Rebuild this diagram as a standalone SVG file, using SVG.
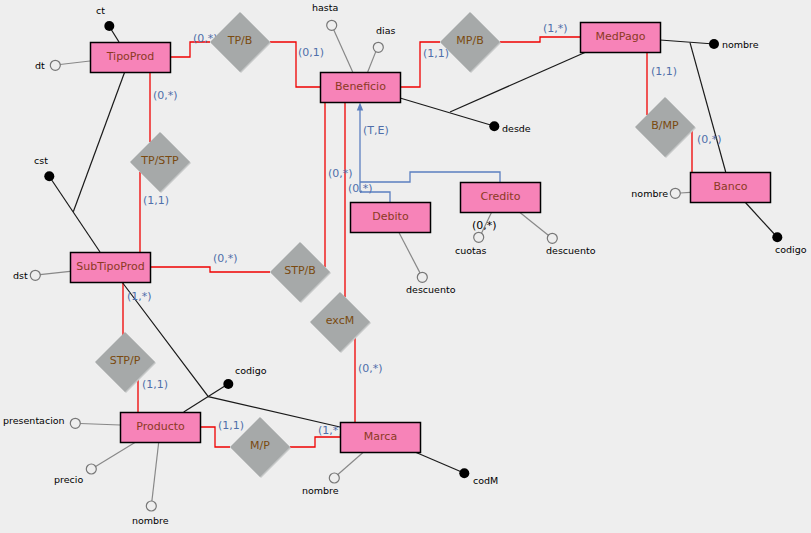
<svg xmlns="http://www.w3.org/2000/svg" width="811" height="533" viewBox="0 0 811 533">
<style>
.bg{fill:#eeeeee}
.ent rect{fill:#f783b8;stroke:#000;stroke-width:1.5}
.ent text{font-family:"DejaVu Sans",sans-serif;font-size:11px;fill:#8b3a1f;text-anchor:middle}
.rel .sh{fill:#c6c8c8}
.rel .d{fill:#a6a9a9}
.rel text{font-family:"DejaVu Sans",sans-serif;font-size:11px;fill:#7a4a10;text-anchor:middle}
.red{fill:none;stroke:#f00000;stroke-width:1.3}
.blk{fill:none;stroke:#1a1a1a;stroke-width:1.2}
.gry{fill:none;stroke:#888;stroke-width:1.2}
.blu{fill:none;stroke:#5b7fc0;stroke-width:1.3}
.card{font-family:"DejaVu Sans",sans-serif;font-size:11px;fill:#4f6eaa}
.att{font-family:"DejaVu Sans",sans-serif;font-size:9.5px;fill:#000}
.oc{fill:none;stroke:#777;stroke-width:1.2}
.kd{fill:#000}
</style>
<rect class="bg" x="0" y="0" width="811" height="533"/>

<g id="connectors">
  <path class="red" d="M170,57 H190 V42 H210"/>
  <path class="red" d="M270,42 H296 V87 H320"/>
  <path class="red" d="M400,87 H420 V42 H440"/>
  <path class="red" d="M500,42 H540 V37 H580"/>
  <path class="red" d="M647,52 V115"/>
  <path class="red" d="M692,130 V172"/>
  <path class="red" d="M150,72 V142"/>
  <path class="red" d="M140,172 V252"/>
  <path class="red" d="M150,267 H210 V272 H270"/>
  <path class="red" d="M325,102 V267"/>
  <path class="red" d="M345,102 V297"/>
  <path class="red" d="M355,337 V422"/>
  <path class="red" d="M123,282 V335"/>
  <path class="red" d="M138,380 V412"/>
  <path class="red" d="M200,427 H215 V447 H230"/>
  <path class="red" d="M290,447 H315 V437 H340"/>

  <path class="blk" d="M109,26 L119,42"/>
  <path class="blk" d="M124.7,72 L73.3,211.7"/>
  <path class="blk" d="M49,176 L100,252"/>
  <path class="blk" d="M400,98 L494,126"/>
  <path class="blk" d="M586,52 L450,112"/>
  <path class="blk" d="M660,40 L714,44"/>
  <path class="blk" d="M690,42.7 L725.7,172"/>
  <path class="blk" d="M745,202 L777,237"/>
  <path class="blk" d="M122,282 L208.3,396.7 L340,427"/>
  <path class="blk" d="M183.7,412 L228,384"/>
  <path class="blk" d="M415,452 L464,473"/>

  <path class="gry" d="M60,64.5 L90,61"/>
  <path class="gry" d="M40,274.7 L70,271.3"/>
  <path class="gry" d="M333.7,29.8 L352.7,72"/>
  <path class="gry" d="M375.8,51.6 L367.7,72"/>
  <path class="gry" d="M680.3,193 L690,192.3"/>
  <path class="gry" d="M398.7,232 L420,272.9"/>
  <path class="gry" d="M491.7,212 L481.5,233.3"/>
  <path class="gry" d="M519.3,212 L548.3,235.3"/>
  <path class="gry" d="M80.3,423.5 L120,425"/>
  <path class="gry" d="M95.6,466.4 L135.3,442.3"/>
  <path class="gry" d="M151.9,501 L158.7,442.3"/>
  <path class="gry" d="M337.9,474.5 L363.3,452.3"/>

  <path class="blu" d="M360,192 V110"/>
  <polygon points="360,102.5 356.8,110.5 363.2,110.5" fill="#5b7fc0"/>
  <path class="blu" d="M500,182 V172 H410 V182 H360"/>
  <path class="blu" d="M390,202 V192 H360"/>
</g>

<g id="cardinalities">
  <text class="card" x="193" y="42">(0,*)</text>
  <text class="card" x="298" y="56">(0,1)</text>
  <text class="card" x="423" y="57">(1,1)</text>
  <text class="card" x="543" y="32">(1,*)</text>
  <text class="card" x="651" y="75">(1,1)</text>
  <text class="card" x="697" y="143">(0,*)</text>
  <text class="card" x="153" y="99">(0,*)</text>
  <text class="card" x="143" y="204">(1,1)</text>
  <text class="card" x="213" y="262">(0,*)</text>
  <text class="card" x="328" y="177">(0,*)</text>
  <text class="card" x="358" y="372">(0,*)</text>
  <text class="card" x="127" y="300">(1,*)</text>
  <text class="card" x="142" y="388">(1,1)</text>
  <text class="card" x="218" y="429">(1,1)</text>
  <text class="card" x="318" y="434">(1,*)</text>
  <text class="card" x="363" y="134">(T,E)</text>
  <text class="card" x="348" y="191.5">(0,*)</text>
</g>

<g id="attributes">
  <circle class="kd" cx="109.3" cy="26" r="5"/><text class="att" x="96" y="13.5">ct</text>
  <circle class="oc" cx="55.3" cy="65.3" r="5"/><text class="att" x="35" y="68.5">dt</text>
  <circle class="kd" cx="49.3" cy="176.3" r="5"/><text class="att" x="34" y="163.5">cst</text>
  <circle class="oc" cx="35.3" cy="275.3" r="5"/><text class="att" x="13" y="278.5">dst</text>
  <circle class="oc" cx="331.7" cy="25.3" r="5"/><text class="att" x="312" y="10.5">hasta</text>
  <circle class="oc" cx="378.3" cy="47.3" r="5"/><text class="att" x="376" y="33.5">dias</text>
  <circle class="kd" cx="494.3" cy="126.3" r="5"/><text class="att" x="502" y="131.5">desde</text>
  <circle class="kd" cx="714" cy="44" r="5"/><text class="att" x="722" y="48">nombre</text>
  <circle class="oc" cx="675.3" cy="193.3" r="5"/><text class="att" x="668" y="197" text-anchor="end">nombre</text>
  <circle class="kd" cx="777.3" cy="237.3" r="5"/><text class="att" x="775" y="253">codigo</text>
  <circle class="oc" cx="422.3" cy="277.3" r="5"/><text class="att" x="406" y="292.5">descuento</text>
  <circle class="oc" cx="478.7" cy="237.3" r="5"/><text class="att" x="455" y="253.5">cuotas</text>
  <text x="472" y="229" font-family="DejaVu Sans, sans-serif" font-size="11" fill="#000">(0,*)</text>
  <circle class="oc" cx="552.3" cy="238.3" r="5"/><text class="att" x="546" y="253.5">descuento</text>
  <circle class="oc" cx="75.3" cy="423.3" r="5"/><text class="att" x="3" y="423.5">presentacion</text>
  <circle class="oc" cx="91.3" cy="469" r="5"/><text class="att" x="54" y="483">precio</text>
  <circle class="oc" cx="151.3" cy="506" r="5"/><text class="att" x="132" y="523.5">nombre</text>
  <circle class="kd" cx="228.3" cy="384" r="5"/><text class="att" x="235" y="373.5">codigo</text>
  <circle class="oc" cx="334.3" cy="478" r="5"/><text class="att" x="302" y="493.5">nombre</text>
  <circle class="kd" cx="464.3" cy="473.3" r="5"/><text class="att" x="473" y="483.5">codM</text>
</g>

<g id="rel-TPB" class="rel"><polygon class="sh" points="241,13 271,43 241,73 211,43"/><polygon class="d" points="240,12 270,42 240,72 210,42"/><text x="240" y="44">TP/B</text></g>
<g id="rel-MPB" class="rel"><polygon class="sh" points="471,13 501,43 471,73 441,43"/><polygon class="d" points="470,12 500,42 470,72 440,42"/><text x="470" y="44">MP/B</text></g>
<g id="rel-BMP" class="rel"><polygon class="sh" points="666,98 696,128 666,158 636,128"/><polygon class="d" points="665,97 695,127 665,157 635,127"/><text x="665" y="129">B/MP</text></g>
<g id="rel-TPSTP" class="rel"><polygon class="sh" points="161,133 191,163 161,193 131,163"/><polygon class="d" points="160,132 190,162 160,192 130,162"/><text x="160" y="164">TP/STP</text></g>
<g id="rel-STPB" class="rel"><polygon class="sh" points="301,243 331,273 301,303 271,273"/><polygon class="d" points="300,242 330,272 300,302 270,272"/><text x="300" y="274">STP/B</text></g>
<g id="rel-excM" class="rel"><polygon class="sh" points="341,293 371,323 341,353 311,323"/><polygon class="d" points="340,292 370,322 340,352 310,322"/><text x="340" y="324">excM</text></g>
<g id="rel-STPP" class="rel"><polygon class="sh" points="126,333 156,363 126,393 96,363"/><polygon class="d" points="125,332 155,362 125,392 95,362"/><text x="125" y="364">STP/P</text></g>
<g id="rel-MP" class="rel"><polygon class="sh" points="261,418 291,448 261,478 231,448"/><polygon class="d" points="260,417 290,447 260,477 230,447"/><text x="260" y="449">M/P</text></g>

<g id="ent-TipoProd" class="ent"><rect x="90.5" y="42.5" width="80" height="30"/><text x="130.5" y="59.5">TipoProd</text></g>
<g id="ent-Beneficio" class="ent"><rect x="320.5" y="72.5" width="80" height="30"/><text x="360.5" y="89.5">Beneficio</text></g>
<g id="ent-MedPago" class="ent"><rect x="580.5" y="22.5" width="80" height="30"/><text x="620.5" y="39.5">MedPago</text></g>
<g id="ent-Banco" class="ent"><rect x="690.5" y="172.5" width="80" height="30"/><text x="730.5" y="189.5">Banco</text></g>
<g id="ent-Debito" class="ent"><rect x="350.5" y="202.5" width="80" height="30"/><text x="390.5" y="219.5">Debito</text></g>
<g id="ent-Credito" class="ent"><rect x="460.5" y="182.5" width="80" height="30"/><text x="500.5" y="199.5">Credito</text></g>
<g id="ent-SubTipoProd" class="ent"><rect x="70.5" y="252.5" width="80" height="30"/><text x="110.5" y="269.5">SubTipoProd</text></g>
<g id="ent-Producto" class="ent"><rect x="120.5" y="412.5" width="80" height="30"/><text x="160.5" y="429.5">Producto</text></g>
<g id="ent-Marca" class="ent"><rect x="340.5" y="422.5" width="80" height="30"/><text x="380.5" y="439.5">Marca</text></g>
</svg>
